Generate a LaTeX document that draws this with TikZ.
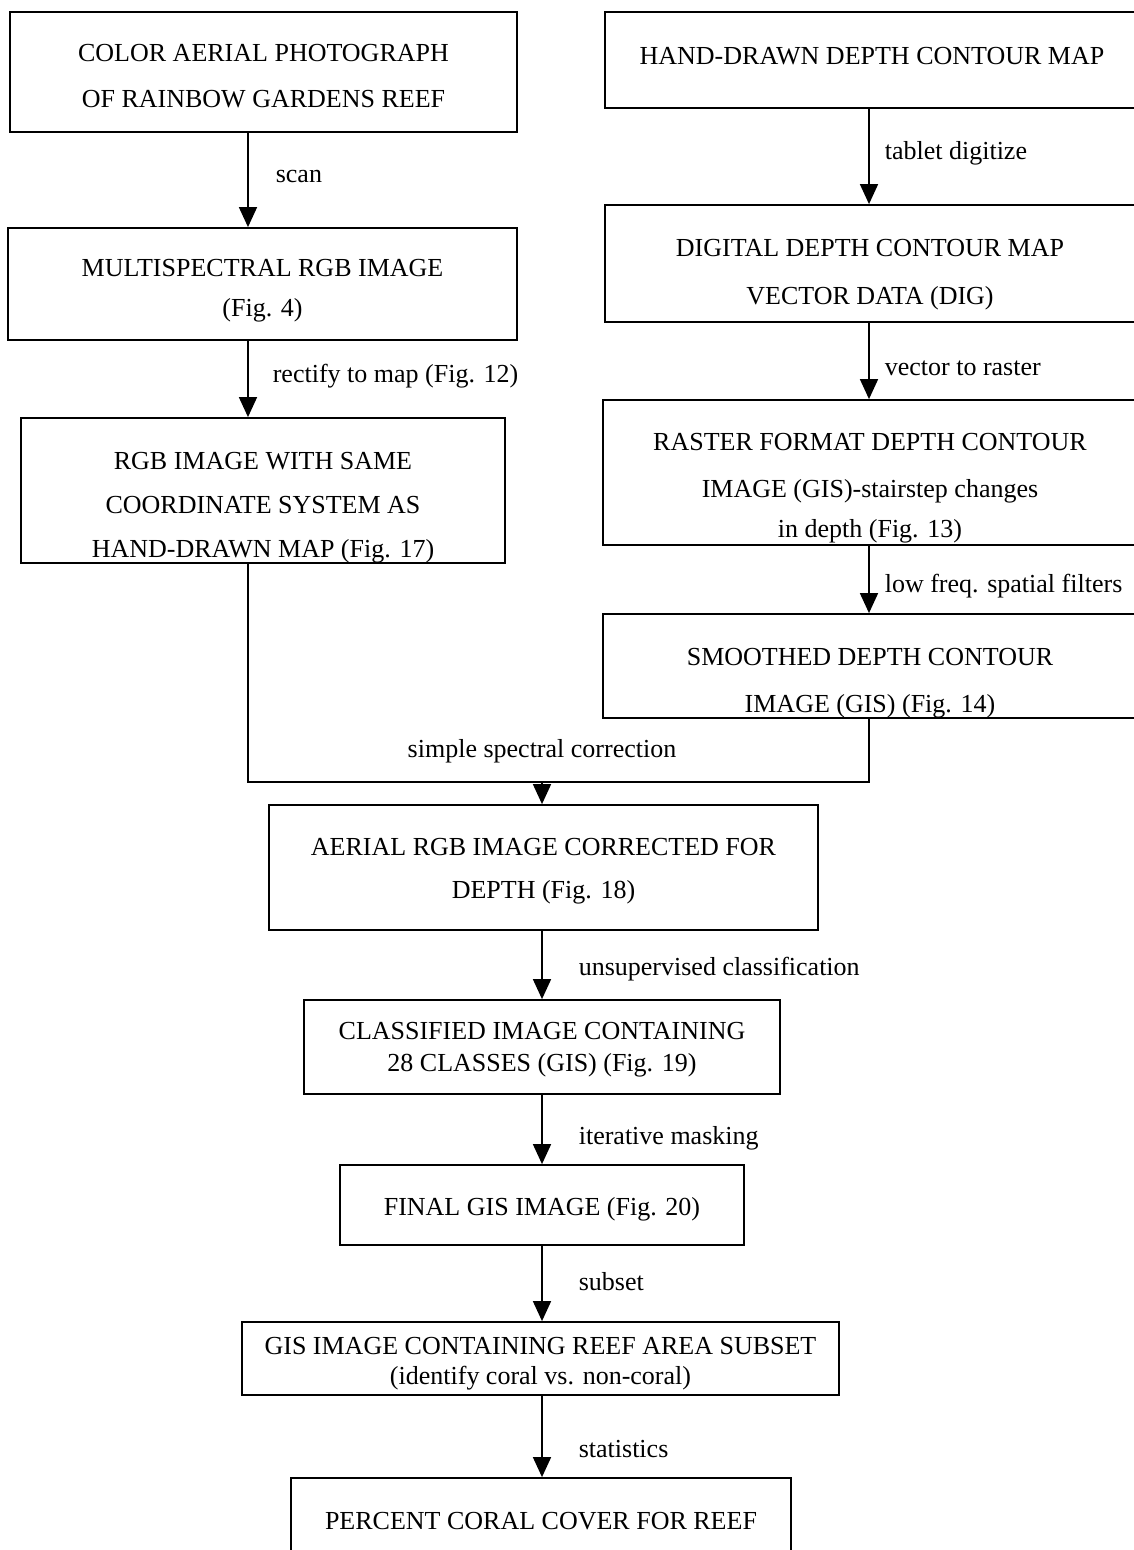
\documentclass[tikz,border=0pt]{standalone}
\usepackage{fontspec}
\setmainfont{Liberation Serif}
\usepackage{tikz}
\usetikzlibrary{arrows.meta}

\tikzset{
  box/.style={draw, line width=1.8pt, inner sep=0pt},
  txt/.style={font=\fontsize{26}{30}\selectfont, align=center, inner sep=0pt},
  lbl/.style={font=\fontsize{26}{30}\selectfont, inner sep=0pt, anchor=west},
  arr/.style={line width=1.6pt, -{Triangle[width=18pt,length=20pt]}},
  link/.style={line width=1.6pt}
}

\begin{document}
\begin{tikzpicture}[x=1pt, y=-1pt]
      \useasboundingbox (0,0) rectangle (1134,1550);
      % Column lines for the arrows
      \coordinate (colL) at (248,0);
      \coordinate (colR) at (869,0);
      \coordinate (colM) at (542,0);
      % Left column: aerial photograph
      \node[box, minimum width=507, minimum height=120] (photo) at (263.5,72) {};
      \node[txt] (photo-t) at (263.5,76) {COLOR AERIAL PHOTOGRAPH\\[16pt]OF RAINBOW GARDENS REEF};
      \node[box, minimum width=509, minimum height=112] (msi) at (262.5,284) {};
      \node[txt] (msi-t) at (262.5,291) {MULTISPECTRAL RGB IMAGE\\[10pt](Fig. 4)};
      \node[box, minimum width=484, minimum height=145] (rgb) at (263,490.5) {};
      \node[txt] (rgb-t) at (263,508) {RGB IMAGE WITH SAME\\[14pt]COORDINATE SYSTEM AS\\[14pt]HAND-DRAWN MAP (Fig. 17)};
      % Right column: depth contours
      \node[box, minimum width=535, minimum height=96] (hand) at (872.5,60) {};
      \node[txt] (hand-t) at (872,56) {HAND-DRAWN DEPTH CONTOUR MAP};
      \node[box, minimum width=535, minimum height=117] (dig) at (872.5,263.5) {};
      \node[txt] (dig-t) at (870,275) {DIGITAL DEPTH CONTOUR MAP\\[18pt]VECTOR DATA (DIG)};
      \node[box, minimum width=537, minimum height=145] (raster) at (871.5,472.5) {};
      \node[txt] (raster-t) at (870,488) {RASTER FORMAT DEPTH CONTOUR\\[17pt]IMAGE (GIS)-stairstep changes\\[10pt]in depth (Fig. 13)};
      \node[box, minimum width=537, minimum height=104] (smooth) at (871.5,666) {};
      \node[txt] (smooth-t) at (870,683) {SMOOTHED DEPTH CONTOUR\\[17pt]IMAGE (GIS) (Fig. 14)};
      % Centre column
      \coordinate (join) at (542,782);
      \node[box, minimum width=549, minimum height=125] (aerial) at (543.5,867.5) {};
      \node[txt] (aerial-t) at (543.5,871) {AERIAL RGB IMAGE CORRECTED FOR\\[13pt]DEPTH (Fig. 18)};
      \node[box, minimum width=476, minimum height=94] (class) at (542,1047) {};
      \node[txt] (class-t) at (542,1050) {CLASSIFIED IMAGE CONTAINING\\[2pt]28 CLASSES (GIS) (Fig. 19)};
      \node[box, minimum width=404, minimum height=80] (final) at (542,1205) {};
      \node[txt] (final-t) at (542,1209) {FINAL GIS IMAGE (Fig. 20)};
      \node[box, minimum width=597, minimum height=73] (subset) at (540.5,1358.5) {};
      \node[txt] (subset-t) at (540.5,1364) {GIS IMAGE CONTAINING REEF AREA SUBSET\\(identify coral vs. non-coral)};
      \node[box, minimum width=500, minimum height=92] (percent) at (541,1524) {};
      \node[txt] (percent-t) at (541,1521) {PERCENT CORAL COVER FOR REEF};
      % Arrows, left
      \draw[arr] (photo.south -| colL) -- (msi.north -| colL)
        node[lbl, pos=0.46, xshift=27] (l-scan) {scan};
      \draw[arr] (msi.south -| colL) -- (rgb.north -| colL)
        node[lbl, pos=0.46, xshift=24] (l-rect) {rectify to map (Fig. 12)};
      % Arrows, right
      \draw[arr] (hand.south -| colR) -- (dig.north -| colR)
        node[lbl, pos=0.47, xshift=15] (l-tab) {tablet digitize};
      \draw[arr] (dig.south -| colR) -- (raster.north -| colR)
        node[lbl, pos=0.6, xshift=15] (l-vec) {vector to raster};
      \draw[arr] (raster.south -| colR) -- (smooth.north -| colR)
        node[lbl, pos=0.6, xshift=15] (l-low) {low freq. spatial filters};
      % Merge of both branches
      \draw[link] (rgb.south -| colL) |- (join) -| (smooth.south -| colR);
      \node[txt] (l-simple) at (542,751) {simple spectral correction};
      \draw[arr] (join) -- (aerial.north -| colM);
      % Arrows, centre
      \draw[arr] (aerial.south -| colM) -- (class.north -| colM)
        node[lbl, pos=0.56, xshift=36] (l-unsup) {unsupervised classification};
      \draw[arr] (class.south -| colM) -- (final.north -| colM)
        node[lbl, pos=0.62, xshift=36] (l-iter) {iterative masking};
      \draw[arr] (final.south -| colM) -- (subset.north -| colM)
        node[lbl, pos=0.47, xshift=36] (l-sub) {subset};
      \draw[arr] (subset.south -| colM) -- (percent.north -| colM)
        node[lbl, pos=0.65, xshift=36] (l-stat) {statistics};
    \end{tikzpicture}
\end{document}
